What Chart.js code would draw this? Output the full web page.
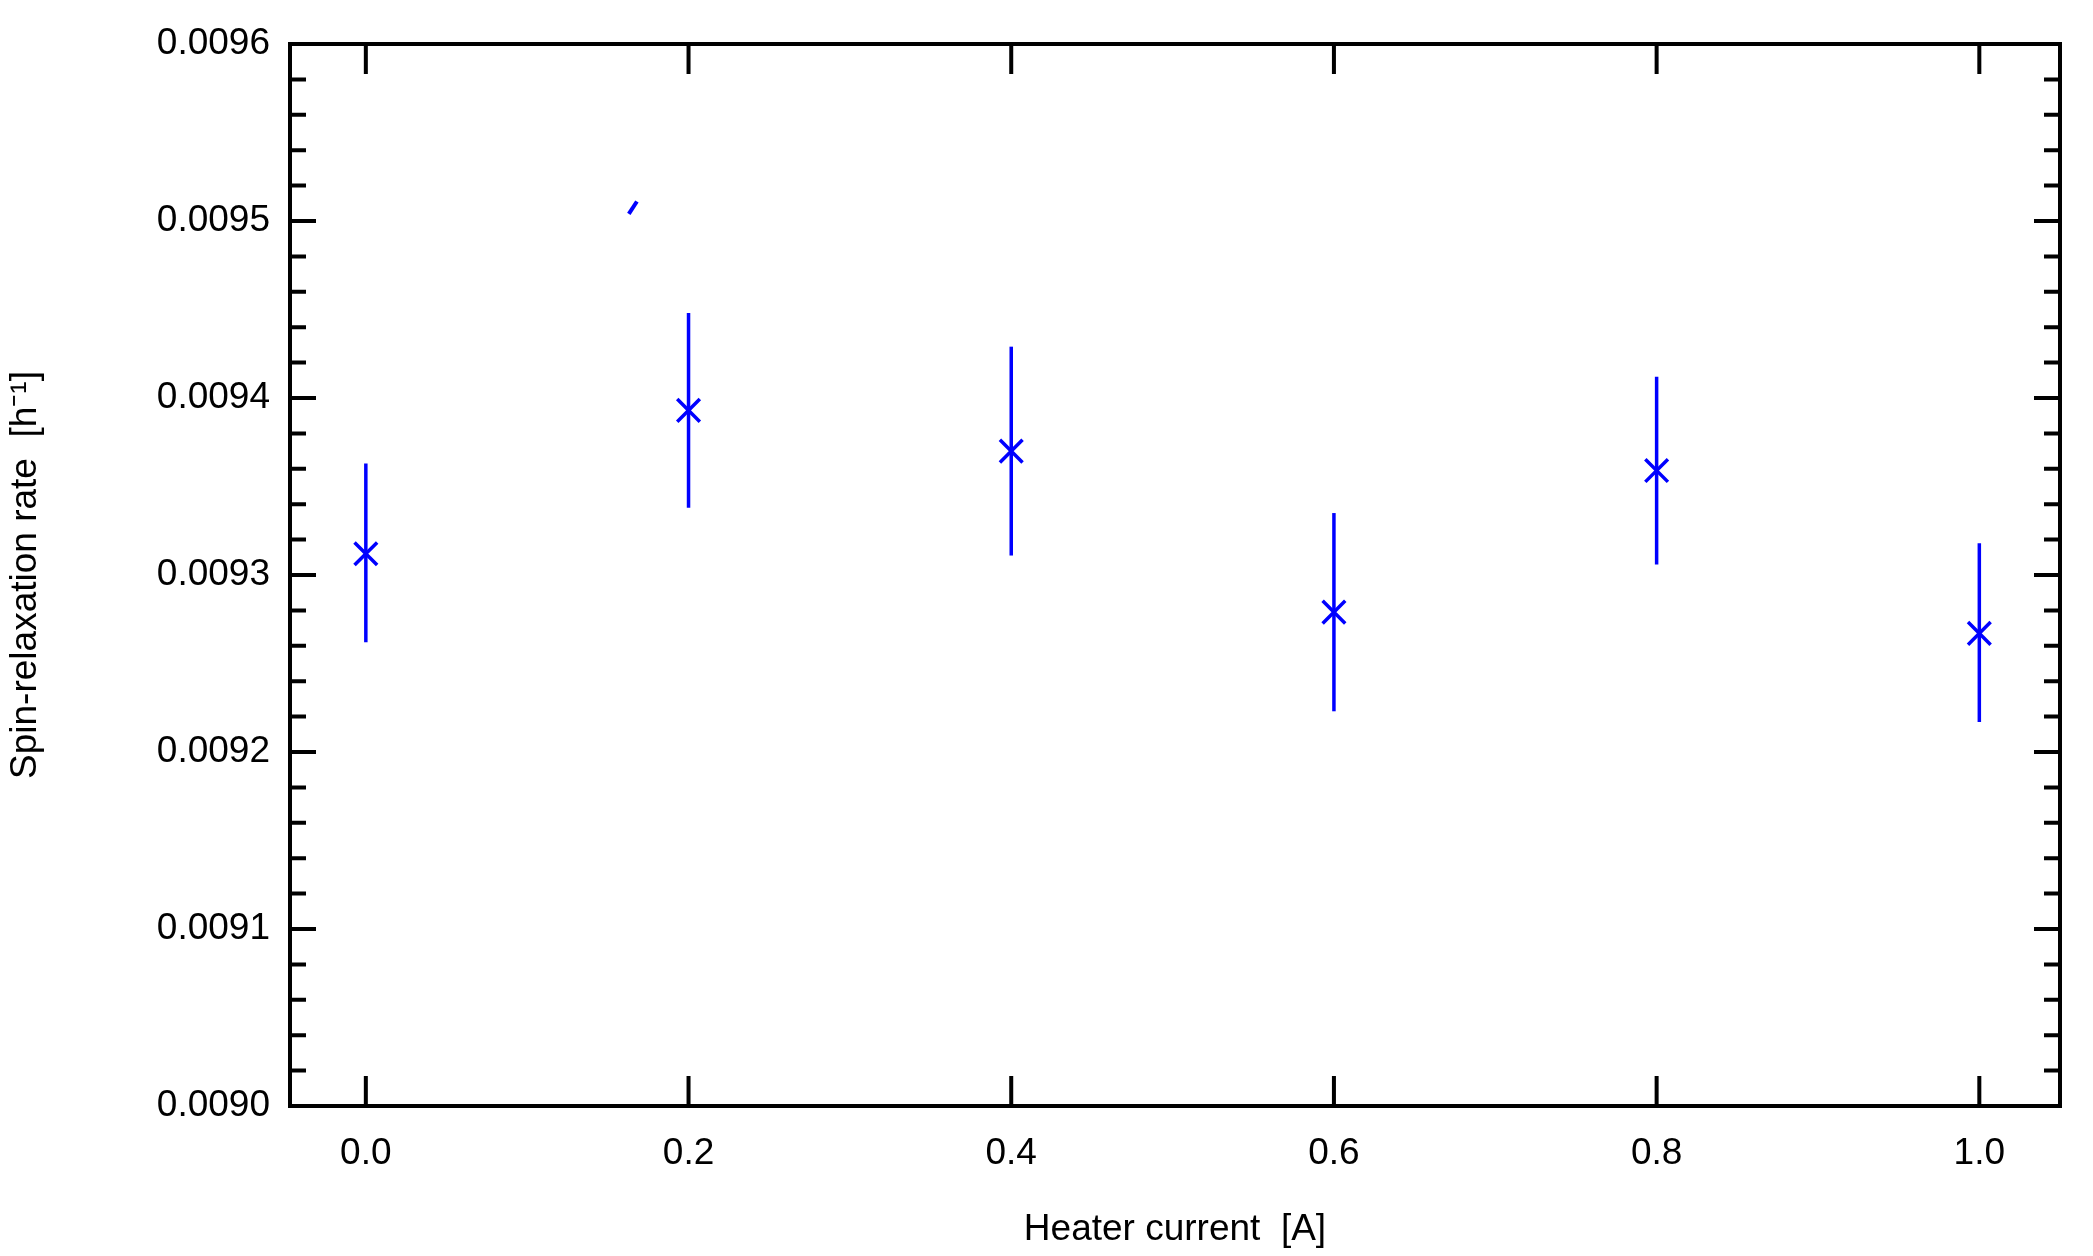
<!DOCTYPE html>
<html><head><meta charset="utf-8">
<script src="https://cdn.jsdelivr.net/npm/chart.js@4"></script>
<style>html,body{margin:0;background:#fff}#c{display:block}</style>
</head><body>
<canvas id="c" width="2093" height="1256"></canvas>
<script>
// data
const current = [0.0, 0.2, 0.4, 0.6, 0.8, 1.0];
const rate = [0.009312, 0.009393, 0.009370, 0.009279, 0.009359, 0.009267];
const errLow = [0.009262, 0.009338, 0.009311, 0.009223, 0.009306, 0.009217];
const errHigh = [0.009363, 0.009448, 0.009429, 0.009335, 0.009412, 0.009318];
const strayX = [0.163, 0.168];
const strayY = [0.009504, 0.009511];
const xTicks = [0.0, 0.2, 0.4, 0.6, 0.8, 1.0];

const font = {family: 'Liberation Sans, sans-serif', size: 37};

// error bars + inward ticks
const extras = {
    id: 'extras',
    afterDatasetsDraw(chart) {
        const c = chart.ctx, x = chart.scales.x, y = chart.scales.y;
        c.save();
        c.strokeStyle = '#0000ff';
        c.lineWidth = 3.5;
        current.forEach((v, i) => {
            c.beginPath();
            c.moveTo(x.getPixelForValue(v), y.getPixelForValue(errLow[i]));
            c.lineTo(x.getPixelForValue(v), y.getPixelForValue(errHigh[i]));
            c.stroke();
        });
        const a = chart.chartArea;
        c.strokeStyle = '#000';
        c.lineWidth = 4;
        c.beginPath();
        for (let k = 0; k <= 30; k++) {
            const val = 0.0090 + k * 0.00002;
            const py = y.getPixelForValue(val);
            const len = k % 5 === 0 ? 26 : 16;
            c.moveTo(a.left, py); c.lineTo(a.left + len, py);
            c.moveTo(a.right, py); c.lineTo(a.right - len, py);
        }
        xTicks.forEach(v => {
            const px = x.getPixelForValue(v);
            c.moveTo(px, a.bottom); c.lineTo(px, a.bottom - 30);
            c.moveTo(px, a.top); c.lineTo(px, a.top + 30);
        });
        c.stroke();
        c.lineWidth = 4;
        c.strokeRect(a.left, a.top, a.right - a.left, a.bottom - a.top);
        c.restore();
    }
};

new Chart(document.getElementById('c'), {
    type: 'scatter',
    data: {
        datasets: [{
            data: current.map((v, i) => ({x: v, y: rate[i]})),
            pointStyle: 'crossRot',
            pointRadius: 16,
            pointBorderWidth: 3.5,
            borderColor: '#0000ff',
            backgroundColor: '#0000ff'
        }, {
            data: strayX.map((v, i) => ({x: v, y: strayY[i]})),
            showLine: true,
            pointRadius: 0,
            borderWidth: 4,
            borderColor: '#0000ff'
        }]
    },
    options: {
        responsive: false,
        animation: false,
        layout: {padding: {top: 44, right: 33, left: 0, bottom: 0}},
        plugins: {legend: {display: false}, tooltip: {enabled: false}},
        scales: {
            x: {
                min: -0.047, max: 1.05,
                afterFit(s) { s.height = 150; },
                afterBuildTicks(s) { s.ticks = xTicks.map(v => ({value: v})); },
                grid: {display: false},
                border: {display: false},
                ticks: {color: '#000', font, padding: 18, callback: v => v.toFixed(1)},
                title: {display: true, text: 'Heater current  [A]', color: '#000', font, padding: {top: 6}}
            },
            y: {
                min: 0.0090, max: 0.0096,
                afterFit(s) { s.width = 290; },
                grid: {display: false},
                border: {display: false},
                ticks: {stepSize: 0.0001, color: '#000', font, padding: 12, callback: v => v.toFixed(4)},
                title: {display: true, text: 'Spin-relaxation rate  [h\u207B\u00B9]', color: '#000', font, padding: {bottom: 18}}
            }
        }
    },
    plugins: [extras]
});
</script>
</body></html>
